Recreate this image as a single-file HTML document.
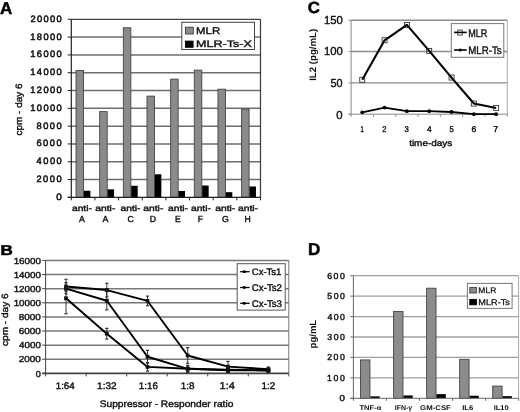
<!DOCTYPE html>
<html><head><meta charset="utf-8"><style>
html,body{margin:0;padding:0;background:#fff;}
svg{display:block;filter:grayscale(1) blur(0.4px);}
text{font-family:"Liberation Sans", sans-serif;text-rendering:geometricPrecision;}
</style></head><body>
<svg width="520" height="412" viewBox="0 0 520 412">
<rect width="520" height="412" fill="#fff"/>
<line x1="71.3" y1="179.54" x2="260.5" y2="179.54" stroke="#6e6e6e" stroke-width="1.5" />
<line x1="71.3" y1="161.74" x2="260.5" y2="161.74" stroke="#6e6e6e" stroke-width="1.5" />
<line x1="71.3" y1="143.94" x2="260.5" y2="143.94" stroke="#6e6e6e" stroke-width="1.5" />
<line x1="71.3" y1="126.13" x2="260.5" y2="126.13" stroke="#6e6e6e" stroke-width="1.5" />
<line x1="71.3" y1="108.33" x2="260.5" y2="108.33" stroke="#6e6e6e" stroke-width="1.5" />
<line x1="71.3" y1="90.52" x2="260.5" y2="90.52" stroke="#6e6e6e" stroke-width="1.5" />
<line x1="71.3" y1="72.72" x2="260.5" y2="72.72" stroke="#6e6e6e" stroke-width="1.5" />
<line x1="71.3" y1="54.91" x2="260.5" y2="54.91" stroke="#6e6e6e" stroke-width="1.5" />
<line x1="71.3" y1="37.11" x2="260.5" y2="37.11" stroke="#6e6e6e" stroke-width="1.5" />
<line x1="71.3" y1="19.3" x2="260.5" y2="19.3" stroke="#444" stroke-width="1.3" />
<line x1="260.5" y1="19.3" x2="260.5" y2="197.35" stroke="#444" stroke-width="1.3" />
<rect x="76.05" y="70.49" width="7.5" height="126.86" fill="#8a8a8a" stroke="#444" stroke-width="0.9" />
<rect x="83.9" y="190.76" width="6.5" height="6.59" fill="#000" stroke="none" stroke-width="1" />
<rect x="99.7" y="111.62" width="7.5" height="85.73" fill="#8a8a8a" stroke="#444" stroke-width="0.9" />
<rect x="107.55" y="189.34" width="6.5" height="8.01" fill="#000" stroke="none" stroke-width="1" />
<rect x="123.35" y="27.76" width="7.5" height="169.59" fill="#8a8a8a" stroke="#444" stroke-width="0.9" />
<rect x="131.2" y="185.78" width="6.5" height="11.57" fill="#000" stroke="none" stroke-width="1" />
<rect x="147" y="96.13" width="7.5" height="101.22" fill="#8a8a8a" stroke="#444" stroke-width="0.9" />
<rect x="154.85" y="174.29" width="6.5" height="23.06" fill="#000" stroke="none" stroke-width="1" />
<rect x="170.65" y="79.13" width="7.5" height="118.22" fill="#8a8a8a" stroke="#444" stroke-width="0.9" />
<rect x="178.5" y="190.94" width="6.5" height="6.41" fill="#000" stroke="none" stroke-width="1" />
<rect x="194.3" y="70.14" width="7.5" height="127.21" fill="#8a8a8a" stroke="#444" stroke-width="0.9" />
<rect x="202.15" y="185.51" width="6.5" height="11.84" fill="#000" stroke="none" stroke-width="1" />
<rect x="217.95" y="89.19" width="7.5" height="108.16" fill="#8a8a8a" stroke="#444" stroke-width="0.9" />
<rect x="225.8" y="192.19" width="6.5" height="5.16" fill="#000" stroke="none" stroke-width="1" />
<rect x="241.6" y="109.13" width="7.5" height="88.22" fill="#8a8a8a" stroke="#444" stroke-width="0.9" />
<rect x="249.45" y="186.49" width="6.5" height="10.86" fill="#000" stroke="none" stroke-width="1" />
<line x1="71.3" y1="19.3" x2="71.3" y2="197.85" stroke="#222" stroke-width="1.2" />
<line x1="67.7" y1="197.35" x2="260.5" y2="197.35" stroke="#222" stroke-width="1.2" />
<line x1="67.7" y1="197.35" x2="71.3" y2="197.35" stroke="#222" stroke-width="1" />
<line x1="67.7" y1="179.54" x2="71.3" y2="179.54" stroke="#222" stroke-width="1" />
<line x1="67.7" y1="161.74" x2="71.3" y2="161.74" stroke="#222" stroke-width="1" />
<line x1="67.7" y1="143.94" x2="71.3" y2="143.94" stroke="#222" stroke-width="1" />
<line x1="67.7" y1="126.13" x2="71.3" y2="126.13" stroke="#222" stroke-width="1" />
<line x1="67.7" y1="108.33" x2="71.3" y2="108.33" stroke="#222" stroke-width="1" />
<line x1="67.7" y1="90.52" x2="71.3" y2="90.52" stroke="#222" stroke-width="1" />
<line x1="67.7" y1="72.72" x2="71.3" y2="72.72" stroke="#222" stroke-width="1" />
<line x1="67.7" y1="54.91" x2="71.3" y2="54.91" stroke="#222" stroke-width="1" />
<line x1="67.7" y1="37.11" x2="71.3" y2="37.11" stroke="#222" stroke-width="1" />
<line x1="67.7" y1="19.3" x2="71.3" y2="19.3" stroke="#222" stroke-width="1" />
<line x1="71.3" y1="197.35" x2="71.3" y2="200.35" stroke="#222" stroke-width="1" />
<line x1="94.95" y1="197.35" x2="94.95" y2="200.35" stroke="#222" stroke-width="1" />
<line x1="118.6" y1="197.35" x2="118.6" y2="200.35" stroke="#222" stroke-width="1" />
<line x1="142.25" y1="197.35" x2="142.25" y2="200.35" stroke="#222" stroke-width="1" />
<line x1="165.9" y1="197.35" x2="165.9" y2="200.35" stroke="#222" stroke-width="1" />
<line x1="189.55" y1="197.35" x2="189.55" y2="200.35" stroke="#222" stroke-width="1" />
<line x1="213.2" y1="197.35" x2="213.2" y2="200.35" stroke="#222" stroke-width="1" />
<line x1="236.85" y1="197.35" x2="236.85" y2="200.35" stroke="#222" stroke-width="1" />
<line x1="260.5" y1="197.35" x2="260.5" y2="200.35" stroke="#222" stroke-width="1" />
<text x="56.25" y="199.81" font-size="9.3" font-weight="normal" fill="#111" textLength="5.5" lengthAdjust="spacingAndGlyphs"  stroke="#111" stroke-width="0.5">0</text>
<text x="36.39" y="182" font-size="9.3" font-weight="normal" fill="#111" textLength="25.33" lengthAdjust="spacing"  stroke="#111" stroke-width="0.5">2000</text>
<text x="36.62" y="164.2" font-size="9.3" font-weight="normal" fill="#111" textLength="25.1" lengthAdjust="spacing"  stroke="#111" stroke-width="0.5">4000</text>
<text x="36.39" y="146.39" font-size="9.3" font-weight="normal" fill="#111" textLength="25.33" lengthAdjust="spacing"  stroke="#111" stroke-width="0.5">6000</text>
<text x="36.43" y="128.59" font-size="9.3" font-weight="normal" fill="#111" textLength="25.29" lengthAdjust="spacing"  stroke="#111" stroke-width="0.5">8000</text>
<text x="30.25" y="110.78" font-size="9.3" font-weight="normal" fill="#111" textLength="31.48" lengthAdjust="spacing"  stroke="#111" stroke-width="0.5">10000</text>
<text x="30.25" y="92.98" font-size="9.3" font-weight="normal" fill="#111" textLength="31.48" lengthAdjust="spacing"  stroke="#111" stroke-width="0.5">12000</text>
<text x="30.25" y="75.17" font-size="9.3" font-weight="normal" fill="#111" textLength="31.48" lengthAdjust="spacing"  stroke="#111" stroke-width="0.5">14000</text>
<text x="30.25" y="57.37" font-size="9.3" font-weight="normal" fill="#111" textLength="31.48" lengthAdjust="spacing"  stroke="#111" stroke-width="0.5">16000</text>
<text x="30.25" y="39.56" font-size="9.3" font-weight="normal" fill="#111" textLength="31.48" lengthAdjust="spacing"  stroke="#111" stroke-width="0.5">18000</text>
<text x="30.49" y="21.76" font-size="9.3" font-weight="normal" fill="#111" textLength="31.24" lengthAdjust="spacing"  stroke="#111" stroke-width="0.5">20000</text>
<text transform="translate(21.65,135.45) rotate(-90)" font-size="9.3" font-weight="normal" fill="#111" textLength="51.89" lengthAdjust="spacingAndGlyphs"  stroke="#111" stroke-width="0.4">cpm - day 6</text>
<text x="71.99" y="210.62" font-size="8.16" font-weight="normal" fill="#111" textLength="19.93" lengthAdjust="spacingAndGlyphs"  stroke="#111" stroke-width="0.4">anti-</text>
<text x="78.95" y="221.9" font-size="8.84" font-weight="normal" fill="#111" textLength="5.87" lengthAdjust="spacingAndGlyphs"  stroke="#111" stroke-width="0.4">A</text>
<text x="95.39" y="210.62" font-size="8.16" font-weight="normal" fill="#111" textLength="19.93" lengthAdjust="spacingAndGlyphs"  stroke="#111" stroke-width="0.4">anti-</text>
<text x="102.55" y="221.9" font-size="8.84" font-weight="normal" fill="#111" textLength="5.87" lengthAdjust="spacingAndGlyphs"  stroke="#111" stroke-width="0.4">A</text>
<text x="120.54" y="210.62" font-size="8.16" font-weight="normal" fill="#111" textLength="19.93" lengthAdjust="spacingAndGlyphs"  stroke="#111" stroke-width="0.4">anti-</text>
<text x="127.4" y="221.81" font-size="8.59" font-weight="normal" fill="#111" textLength="6.33" lengthAdjust="spacingAndGlyphs"  stroke="#111" stroke-width="0.4">C</text>
<text x="143.39" y="210.62" font-size="8.16" font-weight="normal" fill="#111" textLength="19.93" lengthAdjust="spacingAndGlyphs"  stroke="#111" stroke-width="0.4">anti-</text>
<text x="149.71" y="221.9" font-size="8.84" font-weight="normal" fill="#111" textLength="6.3" lengthAdjust="spacingAndGlyphs"  stroke="#111" stroke-width="0.4">D</text>
<text x="168.09" y="210.62" font-size="8.16" font-weight="normal" fill="#111" textLength="19.93" lengthAdjust="spacingAndGlyphs"  stroke="#111" stroke-width="0.4">anti-</text>
<text x="174.95" y="221.9" font-size="8.84" font-weight="normal" fill="#111" textLength="5.78" lengthAdjust="spacingAndGlyphs"  stroke="#111" stroke-width="0.4">E</text>
<text x="190.94" y="210.62" font-size="8.16" font-weight="normal" fill="#111" textLength="19.93" lengthAdjust="spacingAndGlyphs"  stroke="#111" stroke-width="0.4">anti-</text>
<text x="197.71" y="221.9" font-size="8.84" font-weight="normal" fill="#111" textLength="5.24" lengthAdjust="spacingAndGlyphs"  stroke="#111" stroke-width="0.4">F</text>
<text x="215.29" y="210.62" font-size="8.16" font-weight="normal" fill="#111" textLength="19.93" lengthAdjust="spacingAndGlyphs"  stroke="#111" stroke-width="0.4">anti-</text>
<text x="222.08" y="221.81" font-size="8.59" font-weight="normal" fill="#111" textLength="6.84" lengthAdjust="spacingAndGlyphs"  stroke="#111" stroke-width="0.4">G</text>
<text x="238.04" y="210.62" font-size="8.16" font-weight="normal" fill="#111" textLength="19.93" lengthAdjust="spacingAndGlyphs"  stroke="#111" stroke-width="0.4">anti-</text>
<text x="244.62" y="221.9" font-size="8.84" font-weight="normal" fill="#111" textLength="6.27" lengthAdjust="spacingAndGlyphs"  stroke="#111" stroke-width="0.4">H</text>
<rect x="181.8" y="22.3" width="72.7" height="27.2" fill="#fff" stroke="#444" stroke-width="1" />
<rect x="185.4" y="27.2" width="7.9" height="6.8" fill="#8a8a8a" stroke="#3c3c3c" stroke-width="0.9" />
<rect x="185.4" y="41.1" width="7.7" height="6.2" fill="#000" stroke="#000" stroke-width="0.9" />
<text x="196.09" y="33.8" font-size="9.71" font-weight="normal" fill="#111" textLength="24.04" lengthAdjust="spacingAndGlyphs"  stroke="#111" stroke-width="0.4">MLR</text>
<text x="195.99" y="47.3" font-size="9.57" font-weight="normal" fill="#111" textLength="55.85" lengthAdjust="spacingAndGlyphs"  stroke="#111" stroke-width="0.4">MLR-Ts-X</text>
<text x="-0.08" y="13.95" font-size="16.96" font-weight="bold" fill="#000" textLength="12.29" lengthAdjust="spacingAndGlyphs"  stroke="#000" stroke-width="0.5">A</text>
<line x1="45.6" y1="359.27" x2="288.8" y2="359.27" stroke="#787878" stroke-width="1.5" />
<line x1="45.6" y1="345.15" x2="288.8" y2="345.15" stroke="#787878" stroke-width="1.5" />
<line x1="45.6" y1="331.02" x2="288.8" y2="331.02" stroke="#787878" stroke-width="1.5" />
<line x1="45.6" y1="316.9" x2="288.8" y2="316.9" stroke="#787878" stroke-width="1.5" />
<line x1="45.6" y1="302.77" x2="288.8" y2="302.77" stroke="#787878" stroke-width="1.5" />
<line x1="45.6" y1="288.65" x2="288.8" y2="288.65" stroke="#787878" stroke-width="1.5" />
<line x1="45.6" y1="274.52" x2="288.8" y2="274.52" stroke="#787878" stroke-width="1.5" />
<line x1="45.6" y1="260.4" x2="288.8" y2="260.4" stroke="#787878" stroke-width="1.5" />
<line x1="288.8" y1="260.4" x2="288.8" y2="373.4" stroke="#777" stroke-width="1" />
<line x1="45.6" y1="260.4" x2="45.6" y2="373.9" stroke="#444" stroke-width="1" />
<line x1="42.1" y1="373.4" x2="288.8" y2="373.4" stroke="#444" stroke-width="1.6" />
<line x1="42.1" y1="373.4" x2="45.6" y2="373.4" stroke="#444" stroke-width="1" />
<line x1="42.1" y1="359.27" x2="45.6" y2="359.27" stroke="#444" stroke-width="1" />
<line x1="42.1" y1="345.15" x2="45.6" y2="345.15" stroke="#444" stroke-width="1" />
<line x1="42.1" y1="331.02" x2="45.6" y2="331.02" stroke="#444" stroke-width="1" />
<line x1="42.1" y1="316.9" x2="45.6" y2="316.9" stroke="#444" stroke-width="1" />
<line x1="42.1" y1="302.77" x2="45.6" y2="302.77" stroke="#444" stroke-width="1" />
<line x1="42.1" y1="288.65" x2="45.6" y2="288.65" stroke="#444" stroke-width="1" />
<line x1="42.1" y1="274.52" x2="45.6" y2="274.52" stroke="#444" stroke-width="1" />
<line x1="42.1" y1="260.4" x2="45.6" y2="260.4" stroke="#444" stroke-width="1" />
<line x1="45.6" y1="373.4" x2="45.6" y2="376.4" stroke="#444" stroke-width="1" />
<line x1="86.13" y1="373.4" x2="86.13" y2="376.4" stroke="#444" stroke-width="1" />
<line x1="126.67" y1="373.4" x2="126.67" y2="376.4" stroke="#444" stroke-width="1" />
<line x1="167.2" y1="373.4" x2="167.2" y2="376.4" stroke="#444" stroke-width="1" />
<line x1="207.73" y1="373.4" x2="207.73" y2="376.4" stroke="#444" stroke-width="1" />
<line x1="248.27" y1="373.4" x2="248.27" y2="376.4" stroke="#444" stroke-width="1" />
<line x1="288.8" y1="373.4" x2="288.8" y2="376.4" stroke="#444" stroke-width="1" />
<text x="35.84" y="376.61" font-size="8.73" font-weight="normal" fill="#111" textLength="5.03" lengthAdjust="spacingAndGlyphs"  stroke="#111" stroke-width="0.4">0</text>
<text x="18.8" y="362.49" font-size="8.73" font-weight="normal" fill="#111" textLength="22.09" lengthAdjust="spacingAndGlyphs"  stroke="#111" stroke-width="0.4">2000</text>
<text x="19.05" y="348.36" font-size="8.73" font-weight="normal" fill="#111" textLength="21.83" lengthAdjust="spacingAndGlyphs"  stroke="#111" stroke-width="0.4">4000</text>
<text x="18.8" y="334.24" font-size="8.73" font-weight="normal" fill="#111" textLength="22.09" lengthAdjust="spacingAndGlyphs"  stroke="#111" stroke-width="0.4">6000</text>
<text x="18.85" y="320.11" font-size="8.73" font-weight="normal" fill="#111" textLength="22.04" lengthAdjust="spacingAndGlyphs"  stroke="#111" stroke-width="0.4">8000</text>
<text x="13.67" y="305.99" font-size="8.73" font-weight="normal" fill="#111" textLength="27.23" lengthAdjust="spacingAndGlyphs"  stroke="#111" stroke-width="0.4">10000</text>
<text x="13.67" y="291.86" font-size="8.73" font-weight="normal" fill="#111" textLength="27.23" lengthAdjust="spacingAndGlyphs"  stroke="#111" stroke-width="0.4">12000</text>
<text x="13.67" y="277.74" font-size="8.73" font-weight="normal" fill="#111" textLength="27.23" lengthAdjust="spacingAndGlyphs"  stroke="#111" stroke-width="0.4">14000</text>
<text x="13.67" y="263.61" font-size="8.73" font-weight="normal" fill="#111" textLength="27.23" lengthAdjust="spacingAndGlyphs"  stroke="#111" stroke-width="0.4">16000</text>
<text transform="translate(8.07,345.95) rotate(-90)" font-size="9.2" font-weight="normal" fill="#111" textLength="52.5" lengthAdjust="spacingAndGlyphs"  stroke="#111" stroke-width="0.4">cpm - day 6</text>
<text x="55.77" y="388.7" font-size="9.58" font-weight="normal" fill="#111" textLength="18.83" lengthAdjust="spacingAndGlyphs"  stroke="#111" stroke-width="0.4">1:64</text>
<text x="97.05" y="388.7" font-size="9.58" font-weight="normal" fill="#111" textLength="19.57" lengthAdjust="spacingAndGlyphs"  stroke="#111" stroke-width="0.4">1:32</text>
<text x="138.87" y="388.7" font-size="9.58" font-weight="normal" fill="#111" textLength="18.98" lengthAdjust="spacingAndGlyphs"  stroke="#111" stroke-width="0.4">1:16</text>
<text x="180.66" y="388.7" font-size="9.58" font-weight="normal" fill="#111" textLength="13.74" lengthAdjust="spacingAndGlyphs"  stroke="#111" stroke-width="0.4">1:8</text>
<text x="219.58" y="388.8" font-size="9.86" font-weight="normal" fill="#111" textLength="15.15" lengthAdjust="spacingAndGlyphs"  stroke="#111" stroke-width="0.4">1:4</text>
<text x="261.56" y="388.8" font-size="9.71" font-weight="normal" fill="#111" textLength="13.74" lengthAdjust="spacingAndGlyphs"  stroke="#111" stroke-width="0.4">1:2</text>
<text x="99.74" y="407.4" font-size="9.52" font-weight="normal" fill="#111" textLength="133.6" lengthAdjust="spacingAndGlyphs"  stroke="#111" stroke-width="0.4">Suppressor - Responder ratio</text>
<polyline points="66,286.53 106.8,290.06 147.5,300.94 187.7,355.46 228,366.62 268.4,369.16" fill="none" stroke="#000" stroke-width="1.9" stroke-linejoin="round"/>
<polyline points="66,288.65 106.8,300.73 147.5,356.73 187.7,368.81 228,369.73 268.4,370.22" fill="none" stroke="#000" stroke-width="1.9" stroke-linejoin="round"/>
<polyline points="66,298.25 106.8,333.67 147.5,366.9 187.7,368.81 228,370.22 268.4,370.43" fill="none" stroke="#000" stroke-width="1.9" stroke-linejoin="round"/>
<line x1="66" y1="279.26" x2="66" y2="293.81" stroke="#222" stroke-width="0.9" />
<line x1="64.4" y1="279.26" x2="67.6" y2="279.26" stroke="#222" stroke-width="1.1" />
<line x1="64.4" y1="293.81" x2="67.6" y2="293.81" stroke="#222" stroke-width="1.1" />
<rect x="64.1" y="284.63" width="3.8" height="3.8" fill="#111" stroke="none" stroke-width="1" />
<line x1="106.8" y1="283.28" x2="106.8" y2="296.84" stroke="#222" stroke-width="0.9" />
<line x1="105.2" y1="283.28" x2="108.4" y2="283.28" stroke="#222" stroke-width="1.1" />
<line x1="105.2" y1="296.84" x2="108.4" y2="296.84" stroke="#222" stroke-width="1.1" />
<rect x="104.9" y="288.16" width="3.8" height="3.8" fill="#111" stroke="none" stroke-width="1" />
<line x1="147.5" y1="296.14" x2="147.5" y2="305.74" stroke="#222" stroke-width="0.9" />
<line x1="145.9" y1="296.14" x2="149.1" y2="296.14" stroke="#222" stroke-width="1.1" />
<line x1="145.9" y1="305.74" x2="149.1" y2="305.74" stroke="#222" stroke-width="1.1" />
<rect x="145.6" y="299.04" width="3.8" height="3.8" fill="#111" stroke="none" stroke-width="1" />
<line x1="187.7" y1="347.69" x2="187.7" y2="363.23" stroke="#222" stroke-width="0.9" />
<line x1="186.1" y1="347.69" x2="189.3" y2="347.69" stroke="#222" stroke-width="1.1" />
<line x1="186.1" y1="363.23" x2="189.3" y2="363.23" stroke="#222" stroke-width="1.1" />
<rect x="185.8" y="353.56" width="3.8" height="3.8" fill="#111" stroke="none" stroke-width="1" />
<line x1="228" y1="361.39" x2="228" y2="371.85" stroke="#222" stroke-width="0.9" />
<line x1="226.4" y1="361.39" x2="229.6" y2="361.39" stroke="#222" stroke-width="1.1" />
<line x1="226.4" y1="371.85" x2="229.6" y2="371.85" stroke="#222" stroke-width="1.1" />
<rect x="226.1" y="364.72" width="3.8" height="3.8" fill="#111" stroke="none" stroke-width="1" />
<line x1="268.4" y1="367.04" x2="268.4" y2="371.28" stroke="#222" stroke-width="0.9" />
<line x1="266.8" y1="367.04" x2="270" y2="367.04" stroke="#222" stroke-width="1.1" />
<line x1="266.8" y1="371.28" x2="270" y2="371.28" stroke="#222" stroke-width="1.1" />
<rect x="266.5" y="367.26" width="3.8" height="3.8" fill="#111" stroke="none" stroke-width="1" />
<line x1="66" y1="286.18" x2="66" y2="291.12" stroke="#222" stroke-width="0.9" />
<line x1="64.4" y1="286.18" x2="67.6" y2="286.18" stroke="#222" stroke-width="1.1" />
<line x1="64.4" y1="291.12" x2="67.6" y2="291.12" stroke="#222" stroke-width="1.1" />
<rect x="64.1" y="286.75" width="3.8" height="3.8" fill="#111" stroke="none" stroke-width="1" />
<line x1="106.8" y1="291.62" x2="106.8" y2="309.84" stroke="#222" stroke-width="0.9" />
<line x1="105.2" y1="291.62" x2="108.4" y2="291.62" stroke="#222" stroke-width="1.1" />
<line x1="105.2" y1="309.84" x2="108.4" y2="309.84" stroke="#222" stroke-width="1.1" />
<rect x="104.9" y="298.83" width="3.8" height="3.8" fill="#111" stroke="none" stroke-width="1" />
<line x1="147.5" y1="350.38" x2="147.5" y2="363.09" stroke="#222" stroke-width="0.9" />
<line x1="145.9" y1="350.38" x2="149.1" y2="350.38" stroke="#222" stroke-width="1.1" />
<line x1="145.9" y1="363.09" x2="149.1" y2="363.09" stroke="#222" stroke-width="1.1" />
<rect x="145.6" y="354.83" width="3.8" height="3.8" fill="#111" stroke="none" stroke-width="1" />
<line x1="187.7" y1="365.28" x2="187.7" y2="372.34" stroke="#222" stroke-width="0.9" />
<line x1="186.1" y1="365.28" x2="189.3" y2="365.28" stroke="#222" stroke-width="1.1" />
<line x1="186.1" y1="372.34" x2="189.3" y2="372.34" stroke="#222" stroke-width="1.1" />
<rect x="185.8" y="366.91" width="3.8" height="3.8" fill="#111" stroke="none" stroke-width="1" />
<line x1="228" y1="366.9" x2="228" y2="372.55" stroke="#222" stroke-width="0.9" />
<line x1="226.4" y1="366.9" x2="229.6" y2="366.9" stroke="#222" stroke-width="1.1" />
<line x1="226.4" y1="372.55" x2="229.6" y2="372.55" stroke="#222" stroke-width="1.1" />
<rect x="226.1" y="367.83" width="3.8" height="3.8" fill="#111" stroke="none" stroke-width="1" />
<line x1="268.4" y1="368.1" x2="268.4" y2="372.34" stroke="#222" stroke-width="0.9" />
<line x1="266.8" y1="368.1" x2="270" y2="368.1" stroke="#222" stroke-width="1.1" />
<line x1="266.8" y1="372.34" x2="270" y2="372.34" stroke="#222" stroke-width="1.1" />
<rect x="266.5" y="368.32" width="3.8" height="3.8" fill="#111" stroke="none" stroke-width="1" />
<line x1="66" y1="282.72" x2="66" y2="313.79" stroke="#222" stroke-width="0.9" />
<line x1="64.4" y1="282.72" x2="67.6" y2="282.72" stroke="#222" stroke-width="1.1" />
<line x1="64.4" y1="313.79" x2="67.6" y2="313.79" stroke="#222" stroke-width="1.1" />
<rect x="64.1" y="296.36" width="3.8" height="3.8" fill="#111" stroke="none" stroke-width="1" />
<line x1="106.8" y1="328.31" x2="106.8" y2="339.04" stroke="#222" stroke-width="0.9" />
<line x1="105.2" y1="328.31" x2="108.4" y2="328.31" stroke="#222" stroke-width="1.1" />
<line x1="105.2" y1="339.04" x2="108.4" y2="339.04" stroke="#222" stroke-width="1.1" />
<rect x="104.9" y="331.77" width="3.8" height="3.8" fill="#111" stroke="none" stroke-width="1" />
<line x1="147.5" y1="362.66" x2="147.5" y2="371.14" stroke="#222" stroke-width="0.9" />
<line x1="145.9" y1="362.66" x2="149.1" y2="362.66" stroke="#222" stroke-width="1.1" />
<line x1="145.9" y1="371.14" x2="149.1" y2="371.14" stroke="#222" stroke-width="1.1" />
<rect x="145.6" y="365" width="3.8" height="3.8" fill="#111" stroke="none" stroke-width="1" />
<line x1="187.7" y1="365.98" x2="187.7" y2="371.63" stroke="#222" stroke-width="0.9" />
<line x1="186.1" y1="365.98" x2="189.3" y2="365.98" stroke="#222" stroke-width="1.1" />
<line x1="186.1" y1="371.63" x2="189.3" y2="371.63" stroke="#222" stroke-width="1.1" />
<rect x="185.8" y="366.91" width="3.8" height="3.8" fill="#111" stroke="none" stroke-width="1" />
<line x1="228" y1="368.1" x2="228" y2="372.34" stroke="#222" stroke-width="0.9" />
<line x1="226.4" y1="368.1" x2="229.6" y2="368.1" stroke="#222" stroke-width="1.1" />
<line x1="226.4" y1="372.34" x2="229.6" y2="372.34" stroke="#222" stroke-width="1.1" />
<rect x="226.1" y="368.32" width="3.8" height="3.8" fill="#111" stroke="none" stroke-width="1" />
<line x1="268.4" y1="368.67" x2="268.4" y2="372.2" stroke="#222" stroke-width="0.9" />
<line x1="266.8" y1="368.67" x2="270" y2="368.67" stroke="#222" stroke-width="1.1" />
<line x1="266.8" y1="372.2" x2="270" y2="372.2" stroke="#222" stroke-width="1.1" />
<rect x="266.5" y="368.53" width="3.8" height="3.8" fill="#111" stroke="none" stroke-width="1" />
<rect x="237.2" y="263.7" width="48" height="46.4" fill="#fff" stroke="#555" stroke-width="1" />
<line x1="240.2" y1="271.7" x2="249.6" y2="271.7" stroke="#000" stroke-width="1.3" />
<rect x="243" y="270.4" width="2.6" height="2.6" fill="#000" stroke="none" stroke-width="1" />
<text x="251.83" y="275.31" font-size="9.44" font-weight="normal" fill="#111" textLength="29.46" lengthAdjust="spacingAndGlyphs"  stroke="#111" stroke-width="0.4">Cx-Ts1</text>
<line x1="240.2" y1="287.5" x2="249.6" y2="287.5" stroke="#000" stroke-width="1.3" />
<rect x="243" y="286.2" width="2.6" height="2.6" fill="#000" stroke="none" stroke-width="1" />
<text x="251.81" y="290.9" font-size="9.72" font-weight="normal" fill="#111" textLength="30.18" lengthAdjust="spacingAndGlyphs"  stroke="#111" stroke-width="0.4">Cx-Ts2</text>
<line x1="240.2" y1="303.3" x2="249.6" y2="303.3" stroke="#000" stroke-width="1.3" />
<rect x="243" y="302" width="2.6" height="2.6" fill="#000" stroke="none" stroke-width="1" />
<text x="251.81" y="306.5" font-size="9.72" font-weight="normal" fill="#111" textLength="30.24" lengthAdjust="spacingAndGlyphs"  stroke="#111" stroke-width="0.4">Cx-Ts3</text>
<text x="0.64" y="254.55" font-size="14.35" font-weight="bold" fill="#000" textLength="12.31" lengthAdjust="spacingAndGlyphs"  stroke="#000" stroke-width="0.5">B</text>
<line x1="351.1" y1="82.88" x2="507.3" y2="82.88" stroke="#8c8c8c" stroke-width="1.4" />
<line x1="351.1" y1="51.57" x2="507.3" y2="51.57" stroke="#8c8c8c" stroke-width="1.4" />
<line x1="351.1" y1="20.25" x2="507.3" y2="20.25" stroke="#8c8c8c" stroke-width="1.4" />
<line x1="507.3" y1="20.25" x2="507.3" y2="114.2" stroke="#aaa" stroke-width="1" />
<line x1="351.1" y1="20.25" x2="351.1" y2="114.2" stroke="#888" stroke-width="1" />
<line x1="348.6" y1="114.2" x2="507.3" y2="114.2" stroke="#888" stroke-width="1" />
<line x1="348.6" y1="114.2" x2="351.1" y2="114.2" stroke="#888" stroke-width="1" />
<line x1="348.6" y1="82.88" x2="351.1" y2="82.88" stroke="#888" stroke-width="1" />
<line x1="348.6" y1="51.57" x2="351.1" y2="51.57" stroke="#888" stroke-width="1" />
<line x1="348.6" y1="20.25" x2="351.1" y2="20.25" stroke="#888" stroke-width="1" />
<line x1="351.1" y1="114.2" x2="351.1" y2="116.7" stroke="#888" stroke-width="1" />
<line x1="373.41" y1="114.2" x2="373.41" y2="116.7" stroke="#888" stroke-width="1" />
<line x1="395.73" y1="114.2" x2="395.73" y2="116.7" stroke="#888" stroke-width="1" />
<line x1="418.04" y1="114.2" x2="418.04" y2="116.7" stroke="#888" stroke-width="1" />
<line x1="440.36" y1="114.2" x2="440.36" y2="116.7" stroke="#888" stroke-width="1" />
<line x1="462.67" y1="114.2" x2="462.67" y2="116.7" stroke="#888" stroke-width="1" />
<line x1="484.99" y1="114.2" x2="484.99" y2="116.7" stroke="#888" stroke-width="1" />
<line x1="507.3" y1="114.2" x2="507.3" y2="116.7" stroke="#888" stroke-width="1" />
<text x="336.25" y="118.53" font-size="11.55" font-weight="normal" fill="#111" textLength="6.32" lengthAdjust="spacingAndGlyphs"  stroke="#111" stroke-width="0.4">0</text>
<text x="330.47" y="87.28" font-size="11.55" font-weight="normal" fill="#111" textLength="12.1" lengthAdjust="spacingAndGlyphs"  stroke="#111" stroke-width="0.4">50</text>
<text x="323.95" y="55.38" font-size="11.55" font-weight="normal" fill="#111" textLength="18.84" lengthAdjust="spacingAndGlyphs"  stroke="#111" stroke-width="0.4">100</text>
<text x="323.95" y="24.38" font-size="11.55" font-weight="normal" fill="#111" textLength="18.84" lengthAdjust="spacingAndGlyphs"  stroke="#111" stroke-width="0.4">150</text>
<text transform="translate(316.22,80.83) rotate(-90)" font-size="9.41" font-weight="bold" fill="#111" textLength="51.99" lengthAdjust="spacingAndGlyphs" >IL2 (pg/mL)</text>
<text x="360.56" y="131.9" font-size="8.55" font-weight="normal" fill="#111" textLength="3.23" lengthAdjust="spacingAndGlyphs"  stroke="#111" stroke-width="0.4">1</text>
<text x="382.23" y="131.9" font-size="8.43" font-weight="normal" fill="#111" textLength="4.16" lengthAdjust="spacingAndGlyphs"  stroke="#111" stroke-width="0.4">2</text>
<text x="404.49" y="131.82" font-size="8.31" font-weight="normal" fill="#111" textLength="4.26" lengthAdjust="spacingAndGlyphs"  stroke="#111" stroke-width="0.4">3</text>
<text x="427.09" y="131.9" font-size="8.55" font-weight="normal" fill="#111" textLength="4.67" lengthAdjust="spacingAndGlyphs"  stroke="#111" stroke-width="0.4">4</text>
<text x="449.5" y="131.82" font-size="8.43" font-weight="normal" fill="#111" textLength="4.22" lengthAdjust="spacingAndGlyphs"  stroke="#111" stroke-width="0.4">5</text>
<text x="471.58" y="131.82" font-size="8.31" font-weight="normal" fill="#111" textLength="4.72" lengthAdjust="spacingAndGlyphs"  stroke="#111" stroke-width="0.4">6</text>
<text x="493.16" y="131.9" font-size="8.55" font-weight="normal" fill="#111" textLength="4.89" lengthAdjust="spacingAndGlyphs"  stroke="#111" stroke-width="0.4">7</text>
<text x="409.15" y="145.66" font-size="8.77" font-weight="normal" fill="#111" textLength="43.09" lengthAdjust="spacingAndGlyphs"  stroke="#111" stroke-width="0.4">time-days</text>
<polyline points="362.26,79.75 384.57,40.29 406.89,24.88 429.2,50.94 451.51,77.56 473.83,103.55 496.14,107.94" fill="none" stroke="#000" stroke-width="2.1" stroke-linejoin="round"/>
<polyline points="362.26,112.32 384.57,107.62 406.89,111.19 429.2,111.19 451.51,112.01 473.83,114.2 496.14,114.2" fill="none" stroke="#000" stroke-width="1.8" stroke-linejoin="round"/>
<rect x="359.76" y="77.25" width="5" height="5" fill="none" stroke="#222" stroke-width="0.8" />
<rect x="382.07" y="37.79" width="5" height="5" fill="none" stroke="#222" stroke-width="0.8" />
<rect x="404.39" y="22.38" width="5" height="5" fill="none" stroke="#222" stroke-width="0.8" />
<rect x="426.7" y="48.44" width="5" height="5" fill="none" stroke="#222" stroke-width="0.8" />
<rect x="449.01" y="75.06" width="5" height="5" fill="none" stroke="#222" stroke-width="0.8" />
<rect x="471.33" y="101.05" width="5" height="5" fill="none" stroke="#222" stroke-width="0.8" />
<rect x="493.64" y="105.44" width="5" height="5" fill="none" stroke="#222" stroke-width="0.8" />
<circle cx="362.26" cy="112.32" r="1.9" fill="#000"/>
<circle cx="384.57" cy="107.62" r="1.9" fill="#000"/>
<circle cx="406.89" cy="111.19" r="1.9" fill="#000"/>
<circle cx="429.2" cy="111.19" r="1.9" fill="#000"/>
<circle cx="451.51" cy="112.01" r="1.9" fill="#000"/>
<circle cx="473.83" cy="114.2" r="1.9" fill="#000"/>
<circle cx="496.14" cy="114.2" r="1.9" fill="#000"/>
<rect x="451.3" y="23.6" width="52.5" height="33.7" fill="#fff" stroke="#777" stroke-width="1" />
<line x1="454.1" y1="32.4" x2="466.7" y2="32.4" stroke="#000" stroke-width="1.6" />
<rect x="457.8" y="30" width="4.4" height="5.1" fill="none" stroke="#222" stroke-width="0.8" />
<line x1="454.1" y1="50" x2="466.7" y2="50" stroke="#000" stroke-width="1.6" />
<circle cx="460.2" cy="50" r="1.5" fill="#000"/>
<text x="468.27" y="36.7" font-size="10.87" font-weight="normal" fill="#111" textLength="19.15" lengthAdjust="spacingAndGlyphs"  stroke="#111" stroke-width="0.4">MLR</text>
<text x="468.22" y="53.99" font-size="11" font-weight="normal" fill="#111" textLength="33.41" lengthAdjust="spacingAndGlyphs"  stroke="#111" stroke-width="0.4">MLR-Ts</text>
<text x="307.68" y="13.39" font-size="16.2" font-weight="bold" fill="#000" textLength="12.13" lengthAdjust="spacingAndGlyphs"  stroke="#000" stroke-width="0.5">C</text>
<line x1="353.4" y1="377.87" x2="518.6" y2="377.87" stroke="#a0a0a0" stroke-width="1.3" />
<line x1="353.4" y1="357.43" x2="518.6" y2="357.43" stroke="#a0a0a0" stroke-width="1.3" />
<line x1="353.4" y1="337" x2="518.6" y2="337" stroke="#a0a0a0" stroke-width="1.3" />
<line x1="353.4" y1="316.57" x2="518.6" y2="316.57" stroke="#a0a0a0" stroke-width="1.3" />
<line x1="353.4" y1="296.13" x2="518.6" y2="296.13" stroke="#a0a0a0" stroke-width="1.3" />
<line x1="353.4" y1="275.7" x2="518.6" y2="275.7" stroke="#a0a0a0" stroke-width="1.3" />
<line x1="518.6" y1="275.7" x2="518.6" y2="398.3" stroke="#aaa" stroke-width="1" />
<rect x="360.55" y="359.93" width="9.4" height="38.37" fill="#8c8c8c" stroke="#444" stroke-width="0.9" />
<rect x="370.4" y="396.36" width="9.3" height="1.94" fill="#000" stroke="none" stroke-width="1" />
<rect x="393.59" y="311.5" width="9.4" height="86.8" fill="#8c8c8c" stroke="#444" stroke-width="0.9" />
<rect x="403.44" y="395.44" width="9.3" height="2.86" fill="#000" stroke="none" stroke-width="1" />
<rect x="426.63" y="288.21" width="9.4" height="110.09" fill="#8c8c8c" stroke="#444" stroke-width="0.9" />
<rect x="436.48" y="394.11" width="9.3" height="4.19" fill="#000" stroke="none" stroke-width="1" />
<rect x="459.67" y="359.31" width="9.4" height="38.99" fill="#8c8c8c" stroke="#444" stroke-width="0.9" />
<rect x="469.52" y="395.75" width="9.3" height="2.55" fill="#000" stroke="none" stroke-width="1" />
<rect x="492.71" y="386.08" width="9.4" height="12.22" fill="#8c8c8c" stroke="#444" stroke-width="0.9" />
<rect x="502.56" y="396.15" width="9.3" height="2.15" fill="#000" stroke="none" stroke-width="1" />
<line x1="353.4" y1="275.7" x2="353.4" y2="398.3" stroke="#666" stroke-width="1" />
<line x1="350.4" y1="398.3" x2="518.6" y2="398.3" stroke="#666" stroke-width="1" />
<line x1="350.4" y1="398.3" x2="353.4" y2="398.3" stroke="#666" stroke-width="1" />
<line x1="350.4" y1="377.87" x2="353.4" y2="377.87" stroke="#666" stroke-width="1" />
<line x1="350.4" y1="357.43" x2="353.4" y2="357.43" stroke="#666" stroke-width="1" />
<line x1="350.4" y1="337" x2="353.4" y2="337" stroke="#666" stroke-width="1" />
<line x1="350.4" y1="316.57" x2="353.4" y2="316.57" stroke="#666" stroke-width="1" />
<line x1="350.4" y1="296.13" x2="353.4" y2="296.13" stroke="#666" stroke-width="1" />
<line x1="350.4" y1="275.7" x2="353.4" y2="275.7" stroke="#666" stroke-width="1" />
<line x1="353.4" y1="398.3" x2="353.4" y2="400.8" stroke="#666" stroke-width="1" />
<line x1="386.44" y1="398.3" x2="386.44" y2="400.8" stroke="#666" stroke-width="1" />
<line x1="419.48" y1="398.3" x2="419.48" y2="400.8" stroke="#666" stroke-width="1" />
<line x1="452.52" y1="398.3" x2="452.52" y2="400.8" stroke="#666" stroke-width="1" />
<line x1="485.56" y1="398.3" x2="485.56" y2="400.8" stroke="#666" stroke-width="1" />
<line x1="518.6" y1="398.3" x2="518.6" y2="400.8" stroke="#666" stroke-width="1" />
<text x="339.51" y="401.31" font-size="8.73" font-weight="normal" fill="#111" textLength="5.39" lengthAdjust="spacingAndGlyphs"  stroke="#111" stroke-width="0.4">0</text>
<text x="326.95" y="380.88" font-size="8.73" font-weight="normal" fill="#111" textLength="17.93" lengthAdjust="spacing"  stroke="#111" stroke-width="0.4">100</text>
<text x="327.16" y="360.45" font-size="8.73" font-weight="normal" fill="#111" textLength="17.72" lengthAdjust="spacing"  stroke="#111" stroke-width="0.4">200</text>
<text x="327.25" y="340.01" font-size="8.73" font-weight="normal" fill="#111" textLength="17.63" lengthAdjust="spacing"  stroke="#111" stroke-width="0.4">300</text>
<text x="327.38" y="319.58" font-size="8.73" font-weight="normal" fill="#111" textLength="17.5" lengthAdjust="spacing"  stroke="#111" stroke-width="0.4">400</text>
<text x="327.25" y="299.15" font-size="8.73" font-weight="normal" fill="#111" textLength="17.63" lengthAdjust="spacing"  stroke="#111" stroke-width="0.4">500</text>
<text x="327.16" y="278.71" font-size="8.73" font-weight="normal" fill="#111" textLength="17.72" lengthAdjust="spacing"  stroke="#111" stroke-width="0.4">600</text>
<text transform="translate(316.25,348.42) rotate(-90)" font-size="9.3" font-weight="bold" fill="#111" textLength="28.6" lengthAdjust="spacingAndGlyphs" >pg/mL</text>
<text x="359.52" y="409.93" font-size="6.86" font-weight="bold" fill="#111" textLength="21.76" lengthAdjust="spacingAndGlyphs" >TNF-&#945;</text>
<text x="394.85" y="410.1" font-size="6.96" font-weight="bold" fill="#111" textLength="17.39" lengthAdjust="spacingAndGlyphs" >IFN-&#947;</text>
<text x="420.09" y="409.93" font-size="6.76" font-weight="bold" fill="#111" textLength="30.78" lengthAdjust="spacingAndGlyphs" >GM-CSF</text>
<text x="462.2" y="409.93" font-size="6.76" font-weight="bold" fill="#111" textLength="11.17" lengthAdjust="spacingAndGlyphs" >IL6</text>
<text x="493.72" y="409.93" font-size="6.76" font-weight="bold" fill="#111" textLength="14.89" lengthAdjust="spacingAndGlyphs" >IL10</text>
<rect x="467.4" y="283.4" width="44.7" height="25" fill="#fff" stroke="#777" stroke-width="1" />
<rect x="469.8" y="287.4" width="6.6" height="5.6" fill="#8a8a8a" stroke="#3c3c3c" stroke-width="0.9" />
<rect x="469.8" y="299.4" width="6.6" height="5.4" fill="#000" stroke="#000" stroke-width="0.9" />
<text x="478.35" y="292.88" font-size="8.04" font-weight="normal" fill="#111" textLength="17.92" lengthAdjust="spacingAndGlyphs"  stroke="#111" stroke-width="0.25">MLR</text>
<text x="478.29" y="304.59" font-size="8.29" font-weight="normal" fill="#111" textLength="31.6" lengthAdjust="spacingAndGlyphs"  stroke="#111" stroke-width="0.25">MLR-Ts</text>
<text x="307.94" y="254.85" font-size="17.25" font-weight="bold" fill="#000" textLength="12.33" lengthAdjust="spacingAndGlyphs"  stroke="#000" stroke-width="0.5">D</text>
</svg>
</body></html>
